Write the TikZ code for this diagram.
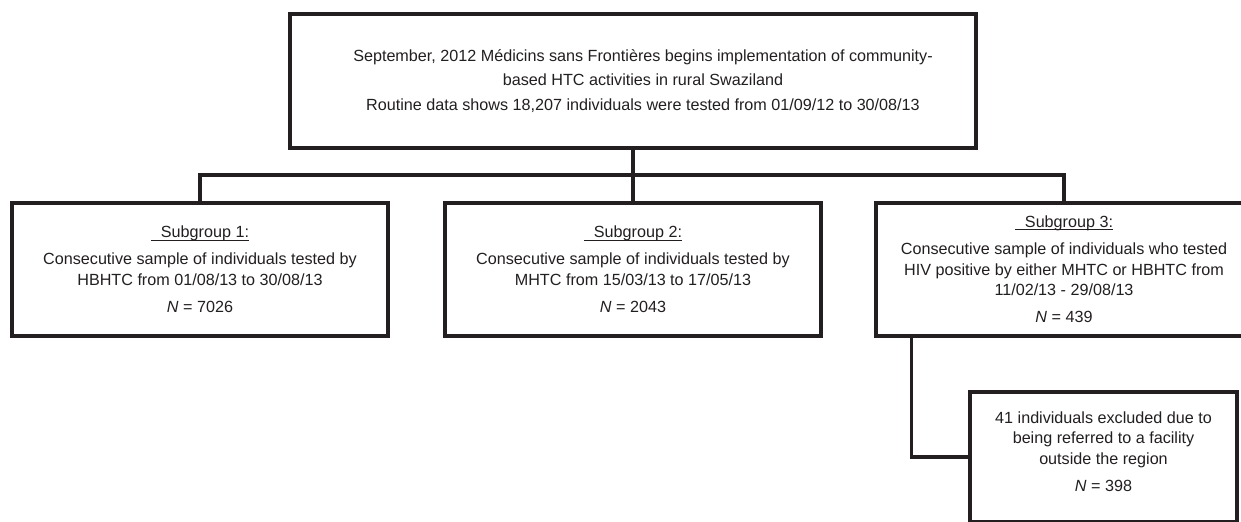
\documentclass[tikz,border=0pt]{standalone}
\usepackage{fontspec}
\setmainfont{Liberation Sans}
\usetikzlibrary{positioning}
\definecolor{ink}{HTML}{231F20}
\newcommand{\sghead}[1]{\vphantom{Sg}\underline{\hspace{0.2cm}\smash{#1}}}
\tikzset{
    box/.style={draw=ink, line width=2pt, align=center, inner sep=0pt, text=ink, font=\fontsize{9.2}{11.6}\selectfont},
    subbox/.style={box, minimum width=7.52cm, minimum height=2.66cm},
    txt/.style={align=center, inner sep=0pt, text=ink, font=\fontsize{9.2}{11.6}\selectfont},
    link/.style={draw=ink, line width=2pt}
}
\begin{document}
\begin{tikzpicture}[x=0.02cm, y=-0.02cm]
    \clip (0, 0) rectangle (1241, 521);
    \fill [white] (0, 0) rectangle (1241, 521);

    \node [box, minimum width=13.72cm, minimum height=2.68cm, font=\fontsize{9.2}{13.4}\selectfont] (start) at (633, 81)
        {\hspace*{0.4cm}September, 2012 Médicins sans Frontières begins implementation of community-\\
         \hspace*{0.4cm}based HTC activities in rural Swaziland\\[1pt]
         \hspace*{0.4cm}Routine data shows 18,207 individuals were tested from 01/09/12 to 30/08/13};

    \node [subbox] (sgA) at (200, 269.5)
        {\sghead{Subgroup 1:}\\[4pt]
         Consecutive sample of individuals tested by\\
         HBHTC from 01/08/13 to 30/08/13\\[4pt]
         \textit{N} = 7026};
    \node [subbox] (sgB) at (633, 269.5)
        {\sghead{Subgroup 2:}\\[4pt]
         Consecutive sample of individuals tested by\\
         MHTC from 15/03/13 to 17/05/13\\[4pt]
         \textit{N} = 2043};
    \node [subbox] (sgC) at (1064, 269.5)
        {\sghead{Subgroup 3:}\\[4pt]
         Consecutive sample of individuals who tested\\
         HIV positive by either MHTC or HBHTC from\\
         11/02/13 - 29/08/13\hspace{0.9cm}\\[4pt]
         \textit{N} = 439};

    \node [box, minimum width=5.34cm, minimum height=2.6cm] (excl) at (1103.5, 457) {};
    \node [txt, below=0.42cm of excl.north] (excltxt)
        {41 individuals excluded due to\\
         being referred to a facility\\
         outside the region\\[4pt]
         \textit{N} = 398};

    \coordinate (fork) at (633, 175);
    \draw [link] (start.south) -- (sgB.north);
    \draw [link] (sgA.north) |- (fork) -| (sgC.north);
    \draw [link] ([xshift=0.74cm]sgC.south west) |- (excl.west);
\end{tikzpicture}
\end{document}
